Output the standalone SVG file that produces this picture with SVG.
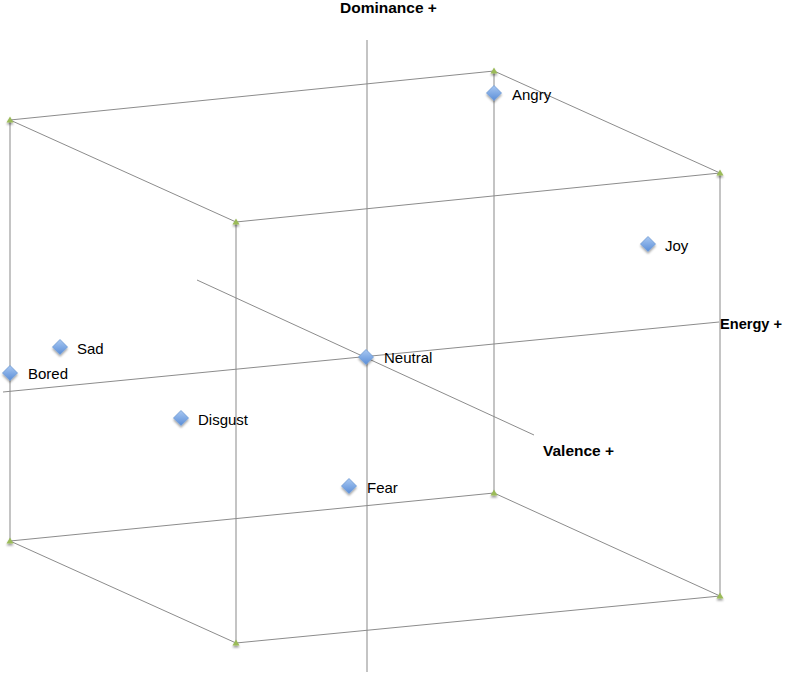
<svg xmlns="http://www.w3.org/2000/svg" width="785" height="674" viewBox="0 0 785 674">
<style>
.vert{stroke:#c4c4c4;stroke-width:2;fill:none}
.edge{stroke:#8c8c8c;stroke-width:1;fill:none}
.lbl{font-family:"Liberation Sans",Arial,sans-serif;font-size:15px;fill:#000}
.ax{font-family:"Liberation Sans",Arial,sans-serif;font-size:15.5px;font-weight:bold;fill:#000}
.dia{fill:url(#blue);stroke:#6f9bd6;stroke-width:0.8;filter:url(#sh)}
.cor{fill:#9bbb59;filter:url(#sh2)}
</style>
<defs>
<linearGradient id="blue" x1="0" y1="0" x2="0" y2="1">
<stop offset="0" stop-color="#a9c8f2"/>
<stop offset="1" stop-color="#5a8ed8"/>
</linearGradient>
<filter id="sh" x="-50%" y="-50%" width="200%" height="200%">
<feGaussianBlur in="SourceAlpha" stdDeviation="1.2"/>
<feOffset dx="0" dy="1.5" result="b"/>
<feComponentTransfer><feFuncA type="linear" slope="0.35"/></feComponentTransfer>
<feMerge><feMergeNode/><feMergeNode in="SourceGraphic"/></feMerge>
</filter>
<filter id="sh2" x="-100%" y="-100%" width="300%" height="300%">
<feGaussianBlur in="SourceAlpha" stdDeviation="1"/>
<feOffset dx="0" dy="2"/>
<feComponentTransfer><feFuncA type="linear" slope="0.4"/></feComponentTransfer>
<feMerge><feMergeNode/><feMergeNode in="SourceGraphic"/></feMerge>
</filter>
<path id="d" d="M0,-7.5 L7.5,0 L0,7.5 L-7.5,0 Z"/>
<path id="t" d="M0,-3.5 L3.5,2.5 L-3.5,2.5 Z"/>
</defs>
<rect width="785" height="674" fill="#fff"/>
<g id="connectors">
<line class="vert" x1="10" y1="120" x2="10" y2="541"/>
<line class="vert" x1="236" y1="222" x2="236" y2="643"/>
<line class="vert" x1="494" y1="71" x2="494" y2="493"/>
<line class="vert" x1="720" y1="173" x2="720" y2="596"/>
<line class="vert" x1="367" y1="40" x2="367" y2="672"/>
<line class="edge" x1="10" y1="120" x2="494" y2="71"/>
<line class="edge" x1="10" y1="120" x2="236" y2="222"/>
<line class="edge" x1="494" y1="71" x2="720" y2="173"/>
<line class="edge" x1="236" y1="222" x2="720" y2="173"/>
<line class="edge" x1="10" y1="541" x2="494" y2="493"/>
<line class="edge" x1="10" y1="541" x2="236" y2="643"/>
<line class="edge" x1="494" y1="493" x2="720" y2="596"/>
<line class="edge" x1="236" y1="643" x2="720" y2="596"/>
<line class="edge" x1="3" y1="392" x2="719" y2="322"/>
<line class="edge" x1="197" y1="280" x2="534" y2="435"/>
</g>
<g id="corners">
<use href="#t" class="cor" x="10" y="120"/>
<use href="#t" class="cor" x="494" y="71"/>
<use href="#t" class="cor" x="236" y="222"/>
<use href="#t" class="cor" x="720" y="173"/>
<use href="#t" class="cor" x="10" y="541"/>
<use href="#t" class="cor" x="494" y="493"/>
<use href="#t" class="cor" x="236" y="643"/>
<use href="#t" class="cor" x="720" y="596"/>
</g>
<g id="axis-dominance"><text class="ax" x="340" y="13">Dominance +</text></g>
<g id="axis-energy"><text class="ax" x="720" y="329" style="font-size:14.6px">Energy +</text></g>
<g id="axis-valence"><text class="ax" x="543" y="456">Valence +</text></g>
<g id="angry"><use href="#d" class="dia" x="494" y="93"/><text class="lbl" x="512" y="100">Angry</text></g>
<g id="joy"><use href="#d" class="dia" x="648" y="244"/><text class="lbl" x="665" y="251">Joy</text></g>
<g id="sad"><use href="#d" class="dia" x="60" y="347"/><text class="lbl" x="77" y="354">Sad</text></g>
<g id="bored"><use href="#d" class="dia" x="10" y="373"/><text class="lbl" x="28" y="379">Bored</text></g>
<g id="neutral"><use href="#d" class="dia" x="366" y="357"/><text class="lbl" x="384" y="363">Neutral</text></g>
<g id="disgust"><use href="#d" class="dia" x="181" y="418"/><text class="lbl" x="198" y="425">Disgust</text></g>
<g id="fear"><use href="#d" class="dia" x="349" y="486"/><text class="lbl" x="367" y="493">Fear</text></g>
</svg>
